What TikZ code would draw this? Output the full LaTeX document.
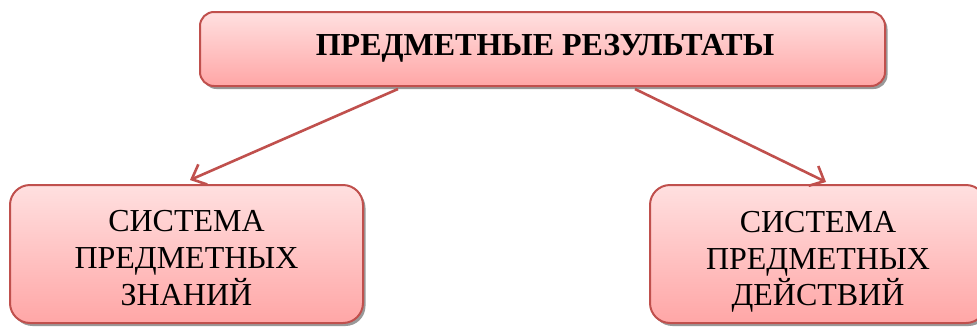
\documentclass[tikz,border=0pt]{standalone}
\usepackage{fontspec}
\setmainfont{Liberation Serif}
\usetikzlibrary{arrows.meta,shadows}
\definecolor{boxline}{RGB}{192,80,77}
\definecolor{boxtop}{RGB}{255,224,224}
\definecolor{boxbot}{RGB}{255,166,166}
\tikzset{
  resbox/.style={draw=boxline, line width=2pt, top color=boxtop, bottom color=boxbot,
    drop shadow={shadow xshift=2.5pt, shadow yshift=-3pt, fill=black!50, opacity=0.8},
    inner sep=0pt},
  boxtext/.style={align=center, inner sep=0pt},
  link/.style={draw=boxline, line width=2.6pt, -{Straight Barb[length=12pt,width=22pt,line width=2.6pt]}}
}
\begin{document}
\begin{tikzpicture}[x=1pt,y=-1pt]
\useasboundingbox (0,0) rectangle (977,327);
\clip (0,0) rectangle (977,327);
\node[resbox, rounded corners=14pt, minimum width=685pt, minimum height=74pt] (top) at (542.5,49) {};
\node[boxtext, anchor=base, font=\fontsize{32}{36.7}\selectfont\bfseries] (toptext) at (545,55) {ПРЕДМЕТНЫЕ РЕЗУЛЬТАТЫ};
\node[resbox, rounded corners=20pt, minimum width=353pt, minimum height=138pt] (left) at (186.5,254) {};
\node[boxtext, font=\fontsize{32}{36.7}\selectfont] (lefttext) at (186.5,258)
  {СИСТЕМА\\ПРЕДМЕТНЫХ\\ЗНАНИЙ};
\node[resbox, rounded corners=20pt, minimum width=336pt, minimum height=138pt] (right) at (818,254) {};
\node[boxtext, font=\fontsize{32}{36.7}\selectfont] (righttext) at (818,262)
  {СИСТЕМА\\ПРЕДМЕТНЫХ\\ДЕЙСТВИЙ};
\coordinate (ls) at (398,89);
\coordinate (le) at (190,180);
\coordinate (rs) at (635,89);
\coordinate (re) at (826,182);
\draw[link] (ls) -- (le);
\draw[link] (rs) -- (re);
\end{tikzpicture}
\end{document}
